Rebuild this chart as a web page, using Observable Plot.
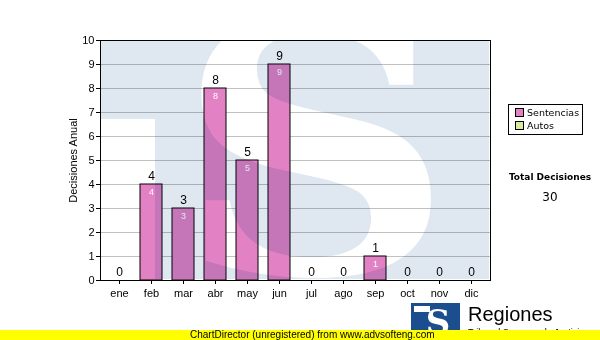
<!DOCTYPE html>
<html>
<head>
<meta charset="utf-8">
<script src="https://cdn.jsdelivr.net/npm/d3@7"></script>
<script src="https://cdn.jsdelivr.net/npm/@observablehq/plot@0.6"></script>
<style>
  html, body { margin: 0; padding: 0; background: white; }
  #wrap { position: relative; width: 600px; height: 340px; overflow: hidden; font-family: "Liberation Sans", Arial, sans-serif; }
  #chart { position: absolute; left: 0; top: 0; }
  #wm { position: absolute; left: 101px; top: 41px; width: 388px; height: 238px; overflow: hidden; mix-blend-mode: multiply; pointer-events: none; }
  #legend { position: absolute; left: 508px; top: 104px; width: 73px; height: 29px; border: 1px solid black; background: white; font-family: "DejaVu Sans", Verdana, sans-serif; font-size: 9.5px; }
  .li { position: absolute; left: 6px; height: 12px; line-height: 12px; white-space: nowrap; }
  .sw { display: inline-block; width: 7px; height: 7px; border: 1px solid black; margin-right: 3px; vertical-align: -1px; }
  #totT { position: absolute; left: 500px; width: 100px; top: 172px; text-align: center; font-family: "DejaVu Sans", Verdana, sans-serif; font-weight: bold; font-size: 9px; }
  #totV { position: absolute; left: 500px; width: 100px; top: 190px; text-align: center; font-family: "DejaVu Sans", Verdana, sans-serif; font-size: 12px; }
  #logo { position: absolute; left: 411px; top: 303px; width: 49px; height: 32px; background: #1b4e8e; overflow: hidden; }
  #reg { position: absolute; left: 468px; top: 303px; font-size: 20px; color: black; }
  #sub { position: absolute; left: 468px; top: 327px; font-size: 9px; color: black; }
  #band { position: absolute; left: 0; top: 330px; width: 600px; height: 10px; background: #ffff00; font-size: 10px; line-height: 10px; }
  #band span { position: absolute; left: 190px; top: 0; }
</style>
</head>
<body>
<div id="wrap">
  <div id="chart"></div>
  <div id="wm">
    <svg width="388" height="238">
      <rect x="0" y="0" width="388" height="238" fill="#dfe8f1"></rect>
      <rect x="0" y="78" width="54" height="160" fill="white"></rect>
      <g transform="translate(214,232) scale(1.1,1)">
        <text x="0" y="0" text-anchor="middle" font-family="DejaVu Serif" font-weight="bold" font-size="350" fill="white">S</text>
      </g>
    </svg>
  </div>
  <div id="legend"></div>
  <div id="totT">Total Decisiones</div>
  <div id="totV"></div>
  <div id="logo">
    <svg width="49" height="32">
      <text x="27" y="31" text-anchor="middle" font-family="DejaVu Serif" font-weight="bold" font-size="34" fill="white">S</text>
      <rect x="3" y="3" width="16" height="6" fill="white"></rect>
    </svg>
  </div>
  <div id="reg">Regiones</div>
  <div id="sub">Tribunal Supremo de Justicia</div>
  <div id="band"><span>ChartDirector (unregistered) from www.advsofteng.com</span></div>
</div>
<script>
const months = ["ene","feb","mar","abr","may","jun","jul","ago","sep","oct","nov","dic"];
const sentencias = [0,4,3,8,5,9,0,0,1,0,0,0];
const autos = [0,0,0,0,0,0,0,0,0,0,0,0];
const seriesNames = ["Sentencias","Autos"];
const seriesColors = ["#e282c4","#d9ec9c"];
const yTicks = [0,1,2,3,4,5,6,7,8,9,10];
const yLabel = "Decisiones Anual";

const rows = [];
months.forEach((m,i) => {
  rows.push({month: m, series: "Sentencias", value: sentencias[i]});
  rows.push({month: m, series: "Autos", value: autos[i]});
});
const totals = months.map((m,i) => ({month: m, total: sentencias[i] + autos[i]}));
const inner = months.map((m,i) => ({month: m, value: sentencias[i]})).filter(d => d.value > 0);

const chart = Plot.plot({
  width: 600,
  height: 340,
  marginLeft: 100,
  marginRight: 110,
  marginTop: 40,
  marginBottom: 60,
  style: {background: "white", fontFamily: "Liberation Sans, Arial, sans-serif", fontSize: "11px", color: "black"},
  x: {domain: months, paddingInner: 0.3, paddingOuter: 0.15, label: null},
  y: {domain: [0, 10], label: null},
  color: {domain: seriesNames, range: seriesColors},
  marks: [
    Plot.gridY(yTicks, {stroke: "#c0c0c0", strokeOpacity: 1}),
    Plot.barY(rows.filter(d => d.value > 0), {x: "month", y: "value", fill: "series", stroke: "black", strokeWidth: 1}),
    Plot.text(totals, {x: "month", y: "total", text: d => String(d.total), dy: -8, fontSize: 12, fill: "black"}),
    Plot.text(inner, {x: "month", y: "value", text: d => String(d.value), dy: 8, fontSize: 9, fill: "white"}),
    Plot.axisY(yTicks, {tickSize: 4, tickPadding: 2, fontSize: 11, label: yLabel, labelAnchor: "center", labelArrow: "none", labelOffset: 31}),
    Plot.axisX({tickSize: 4, tickPadding: 5, fontSize: 11, label: null}),
    Plot.frame({stroke: "black", strokeWidth: 1})
  ]
});
document.getElementById("chart").appendChild(chart);

// legend
const lg = document.getElementById("legend");
seriesNames.forEach((s, i) => {
  const d = document.createElement("div");
  d.className = "li";
  d.style.top = (2 + i * 13) + "px";
  d.innerHTML = `<span class="sw" style="background:${seriesColors[i]}"></span>${s}`;
  lg.appendChild(d);
});
document.getElementById("totV").textContent = String(d3.sum(sentencias) + d3.sum(autos));
</script>
</body>
</html>
